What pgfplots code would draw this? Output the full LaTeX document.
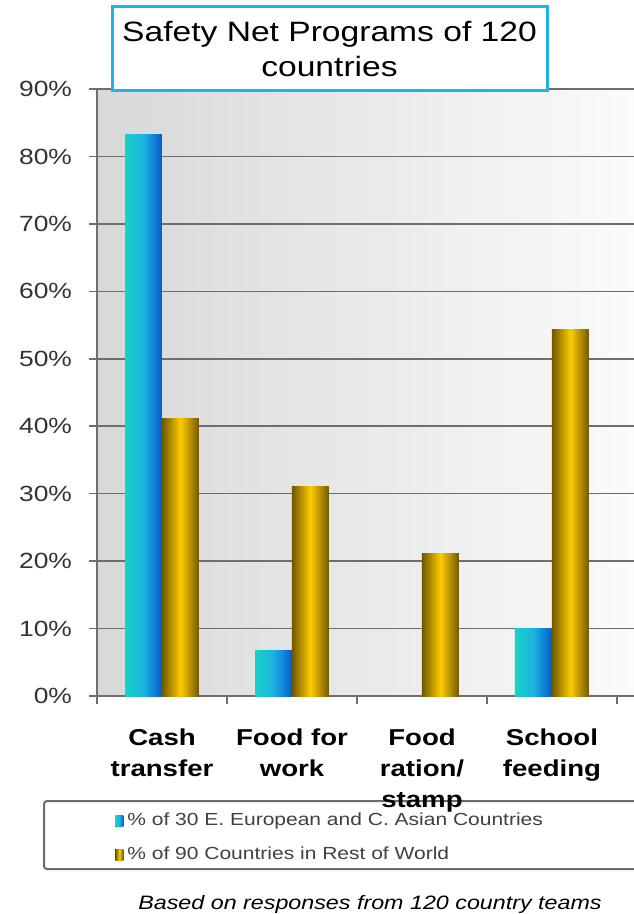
\documentclass[border=0pt]{standalone}
\usepackage{pgfplots}
\pgfplotsset{compat=1.18}
\usepackage{fontspec}
\setmainfont[FakeStretch=1.2]{Liberation Sans}
\definecolor{tealA}{RGB}{22,212,196}
\definecolor{blueB}{RGB}{28,178,226}
\definecolor{blueC}{RGB}{4,92,204}
\definecolor{goldA}{RGB}{112,88,0}
\definecolor{goldB}{RGB}{255,204,0}
\definecolor{bgL}{RGB}{216,216,216}
\definecolor{bgR}{RGB}{252,252,252}
\definecolor{gridc}{RGB}{110,110,110}
\definecolor{titlec}{RGB}{30,180,234}
\tikzset{
  bluebar/.style={left color=tealA, right color=blueC, middle color=blueB, draw=none},
  goldbar/.style={left color=goldA, right color=goldA, middle color=goldB, draw=none},
}
\begin{document}
\begin{tikzpicture}
\path[use as bounding box] (0pt,0pt) rectangle (316.5pt,-457pt);
% legend frame
\draw[gray!85!black, line width=1pt, rounded corners=1.5pt, fill=white] (22pt,-400.5pt) rectangle (360pt,-434.5pt);
\begin{axis}[
  at={(48.5pt,-348pt)}, anchor=south west,
  scale only axis, width=276.5pt, height=303.5pt,
  xmin=-0.5, xmax=3.754, ymin=0, ymax=90,
  axis x line*=bottom, axis y line*=left,
  axis line style={draw=gridc, line width=0.8pt},
  axis background/.style={left color=bgL, right color=bgR},
  ytick={0,10,...,90},
  yticklabels={0\%,10\%,20\%,30\%,40\%,50\%,60\%,70\%,80\%,90\%},
  ymajorgrids, grid style={draw=gridc, line width=0.75pt},
  xtick={0,1,2,3},
  xticklabels={Cash\\transfer, Food for\\work, Food\\ration/\\stamp, School\\feeding},
  minor xtick={-0.5,0.5,1.5,2.5,3.5},
  x tick style={draw=none},
  minor x tick style={draw=gridc, line width=0.8pt},
  y tick style={draw=gridc, line width=0.8pt},
  tick align=outside, major tick length=4pt, minor tick length=4pt,
  /pgf/number format/assume math mode=true,
  x tick label style={align=center, anchor=north, font=\fontsize{11.5}{15.5}\selectfont\bfseries, text=black, yshift=-9pt},
  y tick label style={font=\fontsize{11}{13}\selectfont, text=black!80, xshift=-5pt},
  ybar, bar width=0.2846,
  legend style={at={(0.0325,-0.186)}, anchor=north west, draw=none, fill=none,
    font=\fontsize{8.75}{10}\selectfont, text=black!75, row sep=5pt, inner sep=0pt,
    /tikz/every even column/.append style={column sep=3pt}},
  legend cell align=left,
]
% series 1: % of 30 E. European and C. Asian Countries
\addplot[bluebar, bar shift=-0.1423,
  legend image code/.code={\fill[bluebar] (0pt,-2.75pt) rectangle (4pt,2.75pt);}]
  coordinates {(0,83.3)};
\addlegendentry{\% of 30 E. European and C. Asian Countries}
% series 2: % of 90 Countries in Rest of World
\addplot[goldbar, bar shift=0.1423,
  legend image code/.code={\fill[goldbar] (0pt,-2.75pt) rectangle (4pt,2.75pt);}]
  coordinates {(0,41.1)};
\addlegendentry{\% of 90 Countries in Rest of World}
\addplot[bluebar, bar shift=-0.1423, forget plot] coordinates {(1,6.7)};
\addplot[bluebar, bar shift=-0.1423, forget plot] coordinates {(3,10.0)};
\addplot[goldbar, bar shift=0.1423, forget plot] coordinates {(1,31.1)};
\addplot[goldbar, bar shift=0.1423, forget plot] coordinates {(2,21.1)};
\addplot[goldbar, bar shift=0.1423, forget plot] coordinates {(3,54.4)};
\end{axis}
% title box
\node[draw=titlec, line width=1.5pt, fill=white, minimum width=217.5pt, minimum height=42pt,
  align=center, font=\fontsize{14}{17.5}\selectfont, inner sep=0pt] at (164.75pt,-24.5pt)
  {Safety Net Programs of 120\\countries};
\node[font=\fontsize{9.7}{12}\selectfont\itshape] at (185pt,-452pt)
  {Based on responses from 120 country teams};
\end{tikzpicture}
\end{document}
